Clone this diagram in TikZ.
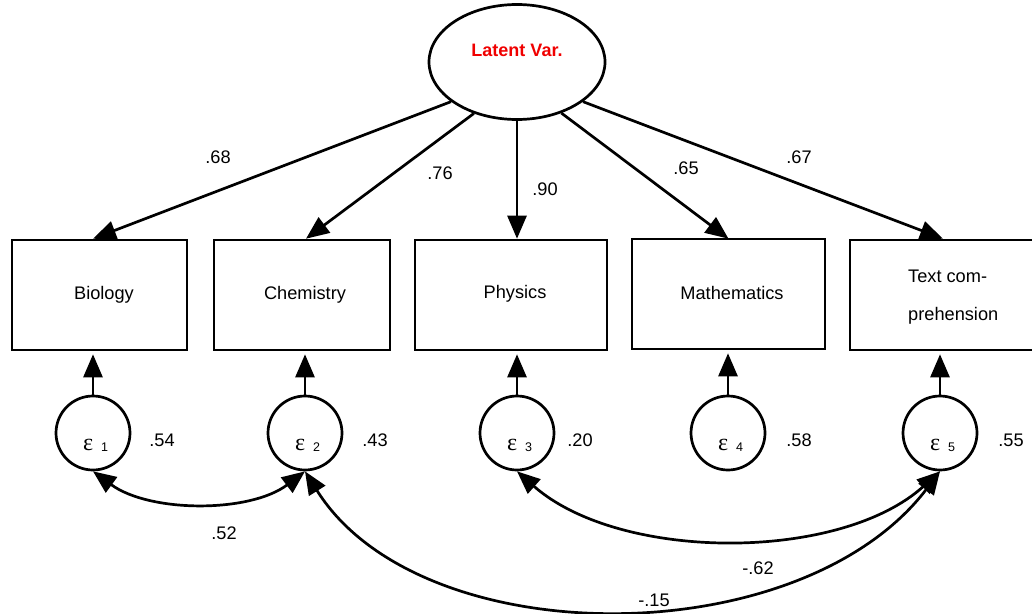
\documentclass[tikz,border=0pt]{standalone}
\usepackage{fontspec}
\setmainfont{Liberation Sans}
\newfontfamily\grk{Liberation Serif}
\usetikzlibrary{arrows.meta,shapes.geometric}
\definecolor{latred}{RGB}{240,0,0}
\begin{document}
\begin{tikzpicture}[x=1pt,y=-1pt,
  every node/.style={font=\fontsize{18.2}{21}\selectfont},
  obsbox/.style={draw,line width=2.6pt,rectangle,minimum height=110pt,inner sep=0pt},
  errc/.style={draw,line width=2.7pt,circle,minimum size=74pt,inner sep=0pt},
  lbl/.style={inner sep=0pt},
  tipx/.tip={Triangle[length=23pt,width=19pt]},
  path/.style={line width=2.7pt,-tipx},
  cov/.style={line width=2.7pt,tipx-tipx}
]
\useasboundingbox (0,0) rectangle (1032,613);
% latent
\node[draw,ellipse,line width=2.7pt,minimum width=176pt,minimum height=115pt,inner sep=0pt] (lat) at (517,62) {};
\node[lbl,text=latred,font=\fontsize{18}{21}\selectfont\bfseries] (latl) at (517,50) {Latent Var.};
% observed
\node[obsbox,minimum width=175pt] (bio) at (99.5,295) {};
\node[lbl] (biol) at (104,295) {Biology};
\node[obsbox,minimum width=176pt] (che) at (302,295) {};
\node[lbl] (chel) at (305,295) {Chemistry};
\node[obsbox,minimum width=192pt] (phy) at (511,295) {};
\node[lbl] (phyl) at (515,294) {Physics};
\node[obsbox,minimum width=193pt] (mat) at (728.5,294) {};
\node[lbl] (matl) at (732,293) {Mathematics};
\node[obsbox,minimum width=190pt] (txt) at (945,295) {};
\node[lbl,anchor=west,align=left,font=\fontsize{18.2}{38}\selectfont] (txtl) at (908,297) {Text com-\\prehension};
% errors
\foreach \i/\x in {1/93,2/305,3/517,4/728,5/940}{
  \node[errc] (e\i) at (\x,433) {};
  \node[lbl,anchor=base west,font=\grk\fontsize{24}{24}\selectfont] (eg\i) at (\x-10,450) {ε};
  \node[lbl,anchor=base,font=\fontsize{12.5}{12.5}\selectfont] (es\i) at (\x+11.5,451) {\i};
}
% loadings
\draw[path] (lat.211) -- ([xshift=-6.5pt]bio.north);
\draw[path] (lat.230) -- ([xshift=4pt]che.north);
\draw[path] (lat.south) -- ([xshift=6pt]phy.north);
\draw[path] (lat.311) -- ([yshift=-1pt]mat.north);
\draw[path] (lat.329) -- ([xshift=-2pt]txt.north);
\node[lbl] (l1) at (218,157) {.68};
\node[lbl] (l2) at (440,173) {.76};
\node[lbl] (l3) at (545,189) {.90};
\node[lbl] (l4) at (686,168) {.65};
\node[lbl] (l5) at (799,157) {.67};
% error paths
\foreach \i/\b in {1/bio,2/che,3/phy,4/mat,5/txt}{
  \draw[path] (e\i.north) -- ([yshift=-3pt]e\i.north |- \b.south);
}
\node[lbl] (v1) at (162,440) {.54};
\node[lbl] (v2) at (375,440) {.43};
\node[lbl] (v3) at (580,440) {.20};
\node[lbl] (v4) at (799,440) {.58};
\node[lbl] (v5) at (1011,440) {.55};
% covariances
\draw[cov] (e1.south) .. controls (150,513) and (250,513) .. (e2.south);
\draw[cov] (e3.south) .. controls (620,562) and (840,562) .. (e5.south);
\draw[cov] (e2.south) .. controls (420,655) and (800,655) .. (e5.south);
\node[lbl] (c1) at (224,533) {.52};
\node[lbl] (c2) at (758,568) {-.62};
\node[lbl] (c3) at (654,600) {-.15};
\end{tikzpicture}
\end{document}
